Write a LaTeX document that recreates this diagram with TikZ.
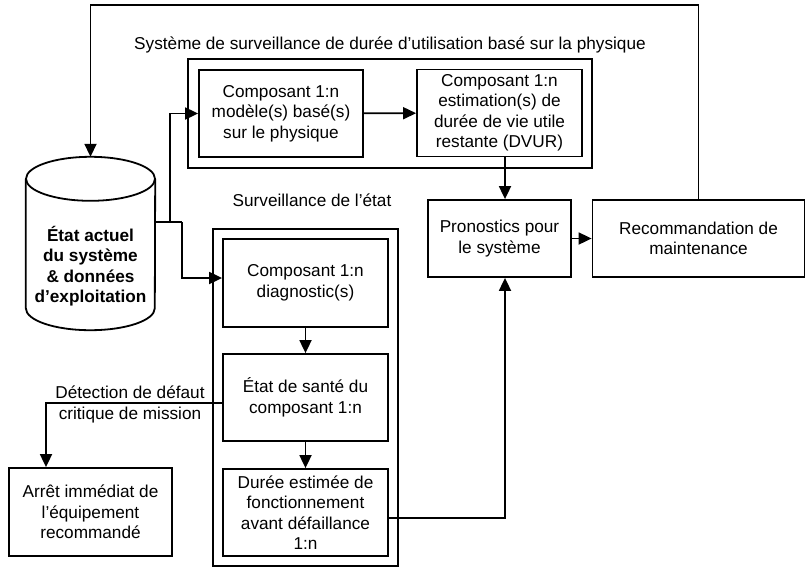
\documentclass[tikz,border=0pt]{standalone}
\usepackage{fontspec}
\setmainfont{Liberation Sans}
\usetikzlibrary{arrows.meta,calc}
\begin{document}
\begin{tikzpicture}[x=1pt,y=-1pt,
  every node/.style={font=\fontsize{17.2}{20.5}\selectfont, align=center, text=black},
  box/.style={draw, line width=1.8pt, inner sep=0pt},
  ln/.style={line width=1.8pt},
  arr/.style={line width=1.8pt, -{Triangle[length=13pt,width=12pt]}},
]
\useasboundingbox (0,0) rectangle (806,568);
% physics-based group
\node[box, minimum width=404pt, minimum height=109pt] (phys) at (390,113.5) {};
\node (physlbl) at (390,45) {Système de surveillance de durée d’utilisation basé sur la physique};
\node[box, minimum width=164pt, minimum height=87pt] (modele) at (281,113.5) {Composant 1:n\\modèle(s) basé(s)\\sur le physique};
\node[box, minimum width=165pt, minimum height=87pt] (dvur) at (499.5,113) {Composant 1:n\\estimation(s) de\\durée de vie utile\\restante (DVUR)};
% prognostics and recommendation
\node[box, minimum width=143pt, minimum height=77pt] (pron) at (499.5,238.5) {Pronostics pour\\le système};
\node[box, minimum width=212pt, minimum height=77pt] (reco) at (698.5,238.5) {Recommandation de\\maintenance};
% condition monitoring group
\node[box, minimum width=185pt, minimum height=337pt] (cond) at (305.5,397.5) {};
\node (condlbl) at (312,200) {Surveillance de l’état};
\node[box, minimum width=165pt, minimum height=88pt] (diag) at (305.5,283) {Composant 1:n\\diagnostic(s)};
\node[box, minimum width=165pt, minimum height=87pt] (sante) at (305.5,397.5) {État de santé du\\composant 1:n};
\node[box, minimum width=165pt, minimum height=87pt] (duree) at (305.5,512.5) {Durée estimée de\\fonctionnement\\avant défaillance\\1:n};
\node[box, minimum width=163pt, minimum height=88pt] (arret) at (90.5,512) {Arrêt immédiat de\\l’équipement\\recommandé};
\node (detlbl) at (130,404.5) {Détection de défaut\\critique de mission};
% cylinder
\node[inner sep=0pt, minimum width=129pt, minimum height=173pt] (cyl) at (90.5,243.5) {};
\draw[ln] ([yshift=-22pt]cyl.north west) -- ([yshift=22pt]cyl.south west)
  arc[start angle=180, end angle=360, x radius=64.5pt, y radius=22pt]
  -- ([yshift=-22pt]cyl.north east);
\draw[ln] ([yshift=-22pt]cyl.north) ellipse [x radius=64.5pt, y radius=22pt];
\node[font=\fontsize{17.2}{20.5}\selectfont\bfseries] (cyltxt) at (90.5,266) {État actuel\\du système\\\& données\\d’exploitation};
% connectors
\coordinate (xa) at (505,0);
\coordinate (top) at (90.5,5);
\coordinate (ja) at (170,222);
\coordinate (jb) at (182,222);
\coordinate (kd) at (46,0);
\coordinate (xb) at (505,518);
\draw[arr] (modele) -- (dvur);
\draw[arr] (dvur.south -| xa) -- (pron.north -| xa);
\draw[arr] (pron) -- (reco);
\draw[arr] (reco.north) |- (top) -- (cyl.north);
\draw[ln] (cyl.east |- ja) -- (jb);
\draw[arr] (ja) |- (modele.west);
\draw[arr] (jb) |- ([yshift=5pt]diag.west);
\draw[arr] (diag) -- (sante);
\draw[arr] (sante) -- (duree);
\draw[arr] ([yshift=-5.5pt]sante.west) -| (arret.north -| kd);
\draw[arr] (duree.east |- xb) -| (pron.south -| xb);
\end{tikzpicture}
\end{document}
